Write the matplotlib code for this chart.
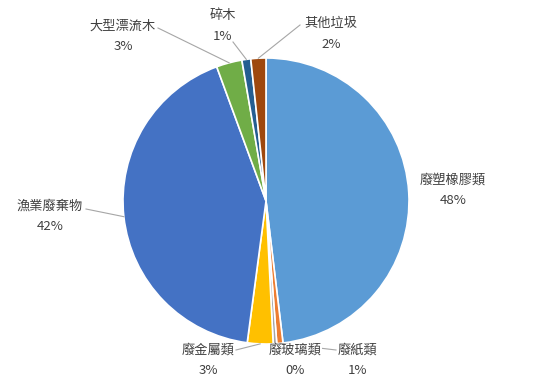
import numpy as np
import matplotlib.pyplot as plt

plt.rcParams['font.family'] = ['Noto Sans CJK TC', 'DejaVu Sans']

# share of marine debris by category (%)
labels = ['廢塑橡膠類', '廢紙類', '廢玻璃類', '廢金屬類', '漁業廢棄物', '大型漂流木', '碎木', '其他垃圾']
values = [48.1, 0.7, 0.4, 2.9, 42.3, 2.9, 1.0, 1.7]
colors = ['#5B9BD5', '#ED7D31', '#A5A5A5', '#FFC000', '#4472C4', '#70AD47', '#255E91', '#9E480E']

W, H = 539, 381
fig = plt.figure(figsize=(W / 100, H / 100), dpi=100)
ax = fig.add_axes([0, 0, 1, 1])

cx, cy, r = 266, H - 201, 143
wedges, _ = ax.pie(values, colors=colors, startangle=90, counterclock=False,
                   center=(cx, cy), radius=r, frame=True,
                   wedgeprops=dict(edgecolor='white', linewidth=1.2))
ax.set_xlim(0, W)
ax.set_ylim(0, H)
ax.set_aspect('equal')
ax.axis('off')

# label centres (pixel coords from top-left) and leader-line anchors
label_pos = [(453, 180), (358, 350), (295, 350), (208, 350),
             (50, 206), (123, 26), (223, 16), (331, 23)]
anchors = [None, (336, 350), None, (236, 350), (86, 209), (158, 28), (233, 42), (300, 25)]

for w, lab, v, (lx, ly), anc in zip(wedges, labels, values, label_pos, anchors):
    if anc is not None:
        mid = np.deg2rad((w.theta1 + w.theta2) / 2)
        px, py = cx + r * np.cos(mid), cy + r * np.sin(mid)
        ax.plot([anc[0], px], [H - anc[1], py], color='#A6A6A6', lw=0.8, zorder=1)
    bg = dict(facecolor='white', edgecolor='none', pad=0) if lab == '廢玻璃類' else None
    ax.text(lx, H - ly, lab, ha='center', va='center', fontsize=9.5,
            color='#404040', bbox=bg, zorder=3)
    ax.text(lx, H - ly - 21, f'{v:.0f}%', ha='center', va='center', fontsize=9.5,
            color='#404040', zorder=3)

fig.savefig('out.png', dpi=100)
